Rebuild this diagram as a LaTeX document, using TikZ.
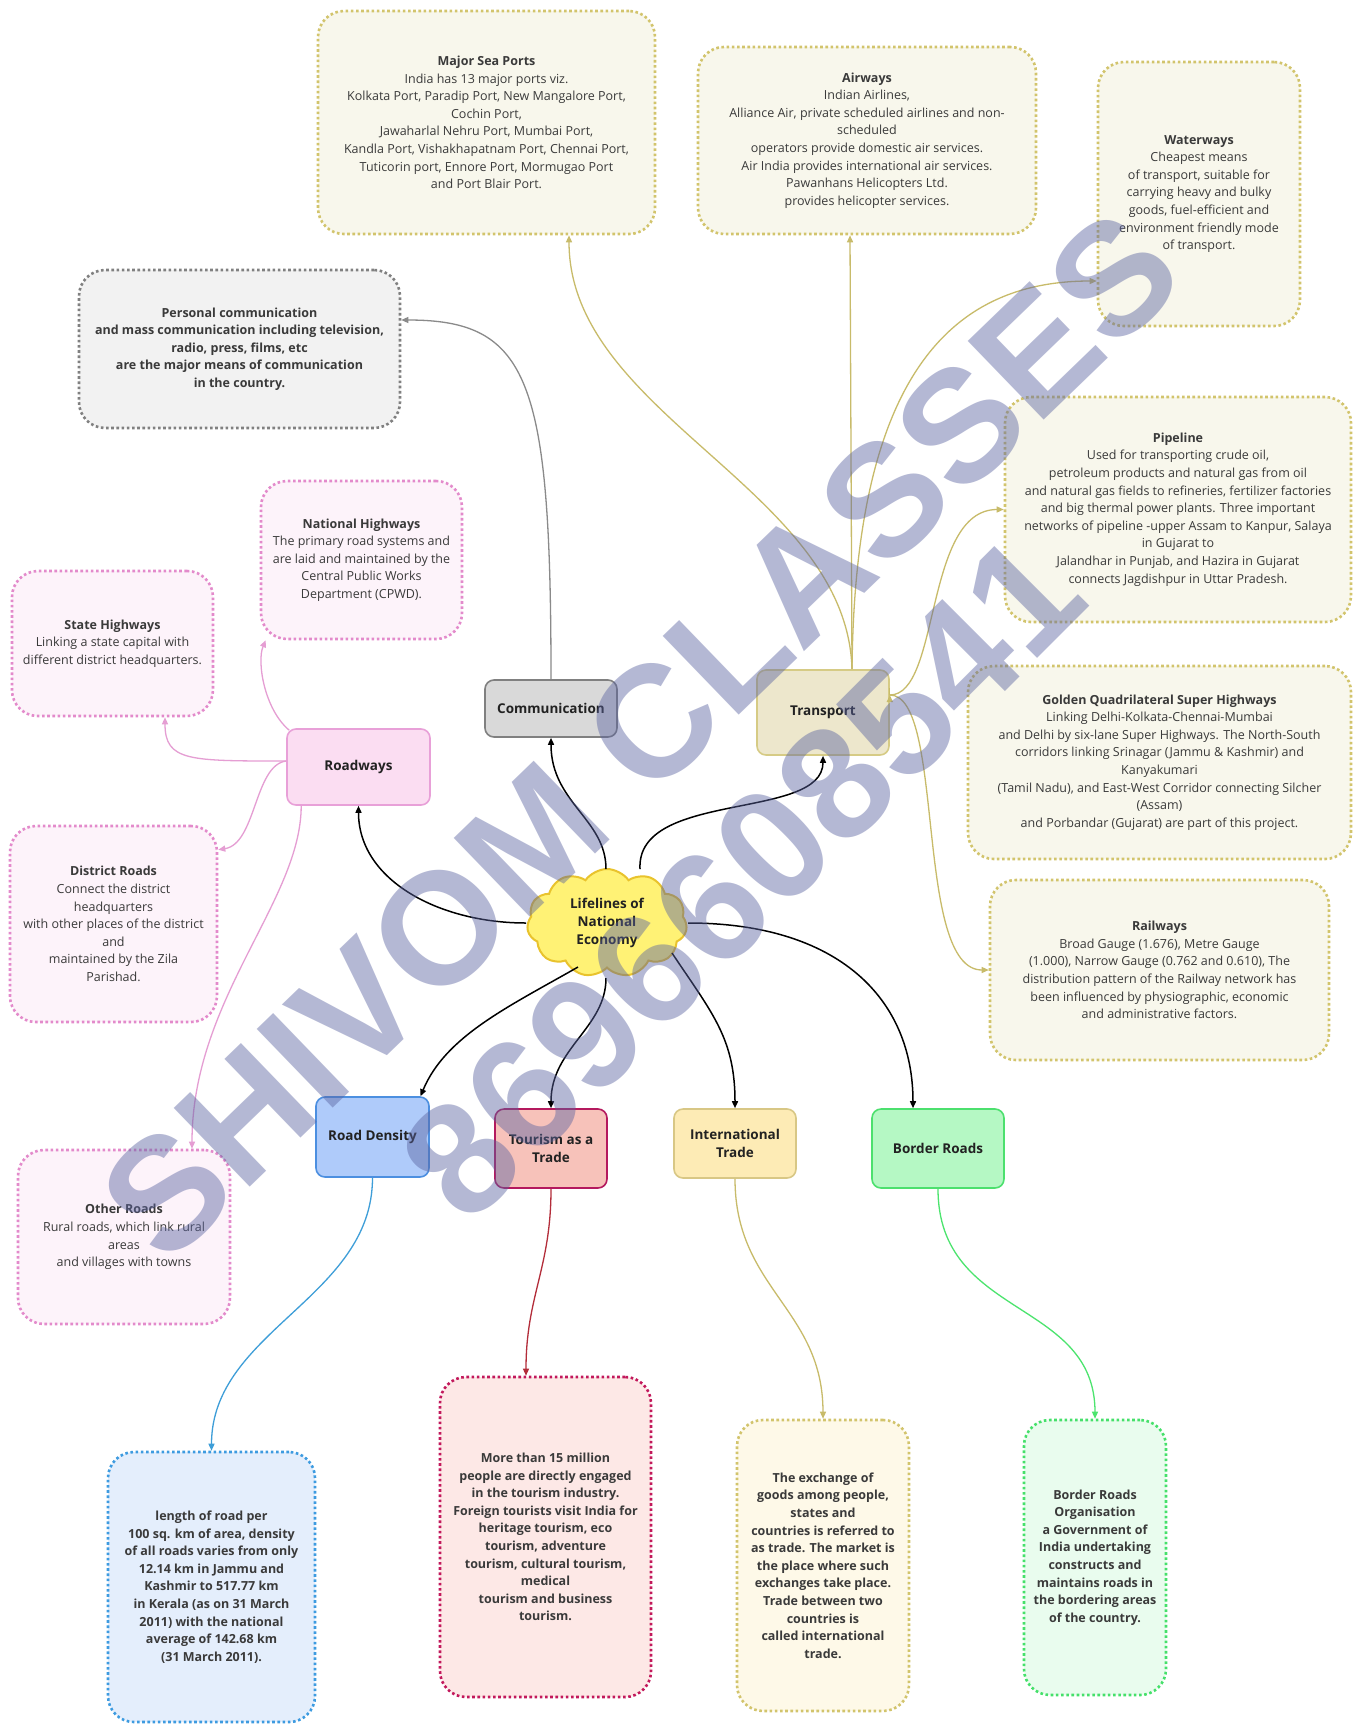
\documentclass[tikz,border=0pt]{standalone}
\usepackage{fontspec}
\setmainfont{Open Sans}
\newfontfamily\wmfont{Liberation Sans}
\usetikzlibrary{shapes.symbols,arrows.meta,calc}
\definecolor{txtc}{HTML}{3A3A3A}
\definecolor{labc}{HTML}{222222}
\definecolor{olv}{HTML}{D2C46C}
\definecolor{crm}{HTML}{F8F7EC}
\definecolor{olvline}{HTML}{C8BB6A}
\definecolor{trfill}{HTML}{EDE7CC}
\definecolor{trdraw}{HTML}{D6CB85}
\definecolor{gyfill}{HTML}{D9D9D9}
\definecolor{gydraw}{HTML}{808080}
\definecolor{gytfill}{HTML}{F2F2F2}
\definecolor{gyline}{HTML}{8A8A8A}
\definecolor{pkfill}{HTML}{FBDDF2}
\definecolor{pkdraw}{HTML}{E8A0D8}
\definecolor{pktfill}{HTML}{FDF3FA}
\definecolor{pkdot}{HTML}{E38ACB}
\definecolor{pkline}{HTML}{E59ED3}
\definecolor{blfill}{HTML}{AFCBFA}
\definecolor{bldraw}{HTML}{4C8FE0}
\definecolor{bltfill}{HTML}{E4EEFC}
\definecolor{bldot}{HTML}{3D9BE0}
\definecolor{blline}{HTML}{3E9ED8}
\definecolor{rdfill}{HTML}{F7C2BA}
\definecolor{rddraw}{HTML}{B4195E}
\definecolor{rdtfill}{HTML}{FDE8E6}
\definecolor{rddot}{HTML}{C2185B}
\definecolor{rdline}{HTML}{B32D3A}
\definecolor{itfill}{HTML}{FDEBB5}
\definecolor{itdraw}{HTML}{D8C785}
\definecolor{ittfill}{HTML}{FEF9E8}
\definecolor{grfill}{HTML}{B5F8C4}
\definecolor{grdraw}{HTML}{4CE06E}
\definecolor{grtfill}{HTML}{E9FCEE}
\definecolor{grdot}{HTML}{45E06A}
\definecolor{grline}{HTML}{4CE46E}
\definecolor{clfill}{HTML}{FFF275}
\definecolor{cldraw}{HTML}{E9C32D}
\definecolor{wmc}{HTML}{5A63A0}
\newcommand\bodyfs{\fontsize{12.5}{17.6}\selectfont}
\newcommand\labfs{\fontsize{13.5}{17.6}\selectfont\bfseries}
\tikzset{
  txt/.style={align=center, text=txtc, font=\bodyfs, inner sep=3pt},
  dbox/.style={txt, rounded corners=26pt, line width=2.6pt, dash pattern=on 2.6pt off 2.6pt},
  nbox/.style={align=center, text=labc, font=\labfs, rounded corners=9pt, line width=1.6pt, inner sep=4pt},
  con/.style={line width=1.5pt, -{Triangle[length=7pt,width=6pt]}},
  ccon/.style={con, line width=1.3pt, draw=#1},
  wm/.style={text=wmc, opacity=0.45, inner sep=0pt, font=\wmfont\bfseries\fontsize{159}{159}\selectfont}
}
\begin{document}
\begin{tikzpicture}[x=1pt,y=-1pt]
\fill[white] (0,0) rectangle (1355,1724);
\useasboundingbox (0,0) rectangle (1355,1724);

% transport group boxes
\node[dbox, draw=olv, fill=crm, minimum width=337pt, minimum height=223pt] (ms) at (486.5,122.5)
 {\textbf{Major Sea Ports}\\India has 13 major ports viz.\\Kolkata Port, Paradip Port, New Mangalore Port,\\Cochin Port,\\Jawaharlal Nehru Port, Mumbai Port,\\Kandla Port, Vishakhapatnam Port, Chennai Port,\\Tuticorin port, Ennore Port, Mormugao Port\\and Port Blair Port.};
\node[dbox, draw=olv, fill=crm, minimum width=338pt, minimum height=187pt] (aw) at (867,140.5)
 {\textbf{Airways}\\Indian Airlines,\\Alliance Air, private scheduled airlines and non-\\scheduled\\operators provide domestic air services.\\Air India provides international air services.\\Pawanhans Helicopters Ltd.\\provides helicopter services.};
\node[dbox, draw=olv, fill=crm, minimum width=202pt, minimum height=264pt] (ww) at (1199,194)
 {\textbf{Waterways}\\Cheapest means\\of transport, suitable for\\carrying heavy and bulky\\goods, fuel-efficient and\\environment friendly mode\\of transport.};
\node[dbox, draw=olv, fill=crm, minimum width=346pt, minimum height=225pt] (pl) at (1178,509.5)
 {\textbf{Pipeline}\\Used for transporting crude oil,\\petroleum products and natural gas from oil\\and natural gas fields to refineries, fertilizer factories\\and big thermal power plants. Three important\\networks of pipeline -upper Assam to Kanpur, Salaya\\in Gujarat to\\Jalandhar in Punjab, and Hazira in Gujarat\\connects Jagdishpur in Uttar Pradesh.};
\node[dbox, draw=olv, fill=crm, minimum width=383pt, minimum height=193pt] (gq) at (1159.5,762.5)
 {\textbf{Golden Quadrilateral Super Highways}\\Linking Delhi-Kolkata-Chennai-Mumbai\\and Delhi by six-lane Super Highways. The North-South\\corridors linking Srinagar (Jammu \& Kashmir) and\\Kanyakumari\\(Tamil Nadu), and East-West Corridor connecting Silcher\\(Assam)\\and Porbandar (Gujarat) are part of this project.};
\node[dbox, draw=olv, fill=crm, minimum width=339pt, minimum height=180pt] (rl) at (1159.5,970)
 {\textbf{Railways}\\Broad Gauge (1.676), Metre Gauge\\(1.000), Narrow Gauge (0.762 and 0.610), The\\distribution pattern of the Railway network has\\been influenced by physiographic, economic\\and administrative factors.};

% communication text
\node[dbox, draw=gydraw, fill=gytfill, font=\bodyfs\bfseries, minimum width=321pt, minimum height=158pt] (ct) at (239.5,349)
 {Personal communication\\and mass communication including television,\\radio, press, films, etc\\are the major means of communication\\in the country.};

% roadways group
\node[dbox, draw=pkdot, fill=pktfill, minimum width=201pt, minimum height=158pt] (nh) at (361.5,560)
 {\textbf{National Highways}\\The primary road systems and\\are laid and maintained by the\\Central Public Works\\Department (CPWD).};
\node[dbox, draw=pkdot, fill=pktfill, minimum width=201pt, minimum height=145pt] (sh) at (112.5,643.5)
 {\textbf{State Highways}\\Linking a state capital with\\different district headquarters.};
\node[dbox, draw=pkdot, fill=pktfill, minimum width=207pt, minimum height=196pt] (dr) at (113.5,924)
 {\textbf{District Roads}\\Connect the district\\headquarters\\with other places of the district\\and\\maintained by the Zila\\Parishad.};
\node[dbox, draw=pkdot, fill=pktfill, minimum width=212pt, minimum height=174pt] (or) at (124,1237)
 {\textbf{Other Roads}\\Rural roads, which link rural\\areas\\and villages with towns};

% bottom text boxes
\node[dbox, draw=bldot, fill=bltfill, font=\bodyfs\bfseries, minimum width=207pt, minimum height=270pt] (rdt) at (211.5,1587)
 {length of road per\\100 sq. km of area, density\\of all roads varies from only\\12.14 km in Jammu and\\Kashmir to 517.77 km\\in Kerala (as on 31 March\\2011) with the national\\average of 142.68 km\\(31 March 2011).};
\node[dbox, draw=rddot, fill=rdtfill, font=\bodyfs\bfseries, minimum width=211pt, minimum height=320pt] (tmt) at (545.5,1537)
 {More than 15 million\\people are directly engaged\\in the tourism industry.\\Foreign tourists visit India for\\heritage tourism, eco\\tourism, adventure\\tourism, cultural tourism,\\medical\\tourism and business\\tourism.};
\node[dbox, draw=olv, fill=ittfill, font=\bodyfs\bfseries, minimum width=172pt, minimum height=291pt] (itt) at (823,1565.5)
 {The exchange of\\goods among people,\\states and\\countries is referred to\\as trade. The market is\\the place where such\\exchanges take place.\\Trade between two\\countries is\\called international\\trade.};
\node[dbox, draw=grdot, fill=grtfill, font=\bodyfs\bfseries, minimum width=142pt, minimum height=275pt] (brt) at (1095,1557.5)
 {Border Roads\\Organisation\\a Government of\\India undertaking\\constructs and\\maintains roads in\\the bordering areas\\of the country.};

% main nodes
\node[nbox, draw=gydraw, fill=gyfill, minimum width=132pt, minimum height=57pt] (cm) at (551,708.5) {Communication};
\node[nbox, draw=trdraw, fill=trfill, minimum width=132pt, minimum height=85pt] (tr) at (823,712.5) {Transport};
\node[nbox, draw=pkdraw, fill=pkfill, minimum width=143pt, minimum height=76pt] (rw) at (358.5,767) {Roadways};
\node[nbox, draw=bldraw, fill=blfill, minimum width=113pt, minimum height=80pt] (rd) at (372.5,1137) {Road Density};
\node[nbox, draw=rddraw, fill=rdfill, minimum width=112pt, minimum height=79pt] (tm) at (551,1148.5) {Tourism as a\\Trade};
\node[nbox, draw=itdraw, fill=itfill, minimum width=122pt, minimum height=69pt] (it) at (735,1143.5) {International\\Trade};
\node[nbox, draw=grdraw, fill=grfill, minimum width=132pt, minimum height=79pt] (br) at (938,1148.5) {Border Roads};
\node[cloud, cloud puffs=11, cloud puff arc=110, aspect=1.45, draw=cldraw, fill=clfill, line width=2pt,
      minimum width=160pt, minimum height=108pt, inner sep=0pt, align=center, text=labc, font=\labfs] (cl) at (607,923)
 {Lifelines of\\National\\Economy};

% centre connectors
\draw[con] ($(cl.center)+(-1,-54)$) .. controls +(0,-50) and +(0,65) .. (cm.south);
\draw[con] ($(cl.center)+(33,-54)$) .. controls +(-4,-79) and +(0,65) .. (tr.south);
\draw[con] ($(cl.center)+(-81,0)$) .. controls +(-86,0) and +(0,75) .. (rw.south);
\draw[con] ($(cl.center)+(-29,44)$) .. controls +(-70,40) and +(25,-60) .. ($(rd.north)+(48,0)$);
\draw[con] ($(cl.center)+(-1,55)$) .. controls +(0,50) and +(0,-60) .. (tm.north);
\draw[con] ($(cl.center)+(65,30)$) .. controls +(40,60) and +(0,-70) .. (it.north);
\draw[con] ($(cl.center)+(81,0)$) .. controls +(150,0) and +(0,-110) .. ($(br.north)+(-25,0)$);

% transport connectors
\draw[ccon=olvline] ($(tr.north)+(29,0)$) .. controls +(-5,-180) and +(0,180) .. ($(ms.south)+(82.5,0)$);
\draw[ccon=olvline] ($(tr.north)+(29,0)$) -- ($(aw.south)+(-17,0)$);
\draw[ccon=olvline] ($(tr.north)+(29,0)$) .. controls +(3,-290) and +(-148,0) .. ($(ww.west)+(0,87)$);
\draw[ccon=olvline] ($(tr.east)+(0,-17.5)$) .. controls +(51,0) and +(-80,0) .. (pl.west);
\draw[ccon=olvline] ($(tr.east)+(0,-17.5)$) -- ($(tr.east)+(0,-17.5)$ -| gq.west);
\draw[ccon=olvline] ($(tr.east)+(0,-17.5)$) .. controls +(56,0) and +(-75,0) .. (rl.west);

% communication connector
\draw[ccon=gyline] (cm.north) .. controls +(0,-300) and +(128,0) .. ($(ct.east)+(0,-29)$);

% roadways connectors
\draw[ccon=pkline] ($(rw.north west)+(3,2)$) .. controls +(-25,-21) and +(-9,21) .. ($(nh.south west)+(6,0)$);
\draw[ccon=pkline] ($(rw.west)+(0,-6)$) .. controls +(-97,0) and +(0,44) .. ($(sh.south)+(52.5,0)$);
\draw[ccon=pkline] ($(rw.west)+(0,-6)$) .. controls +(-32,4) and +(38,-6) .. ($(dr.north east)+(0,25)$);
\draw[ccon=pkline] ($(rw.south west)+(15,0)$) .. controls +(0,95) and +(0,-150) .. ($(or.north)+(68,0)$);

% bottom connectors
\draw[ccon=blline] (rd.south) .. controls +(0,120) and +(0,-120) .. (rdt.north);
\draw[ccon=rdline] (tm.south) .. controls +(0,80) and +(0,-80) .. ($(tmt.north)+(-19.5,0)$);
\draw[ccon=olvline] (it.south) .. controls +(0,110) and +(0,-110) .. (itt.north);
\draw[ccon=grline] (br.south) .. controls +(0,130) and +(0,-120) .. (brt.north);

% watermark
\node[wm, rotate=44] (wm1) at (640,735) {SHIVOM CLASSES};
\node[wm, rotate=45] (wm2) at (742,877) {8696608541};
\end{tikzpicture}
\end{document}
